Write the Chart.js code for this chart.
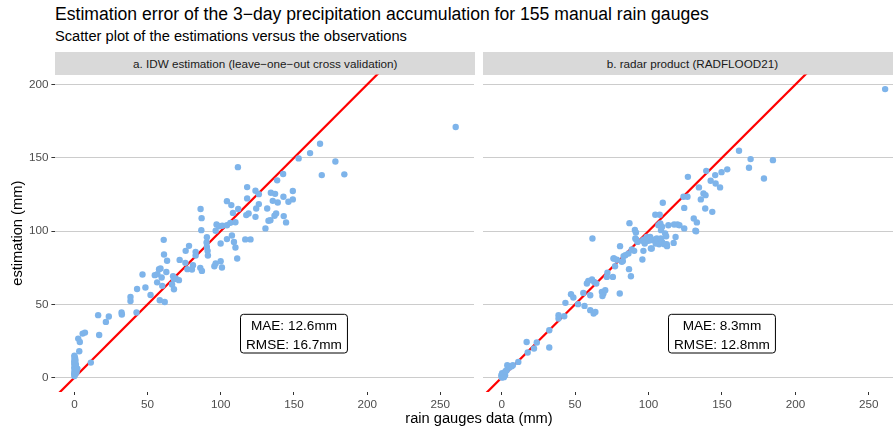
<!DOCTYPE html>
<html>
  <head>
    <script src="https://cdn.jsdelivr.net/npm/chart.js@4"></script>
    <style>
      body { margin: 0; background: #fff; }
      #page { position: relative; width: 893px; height: 432px; overflow: hidden; background: #fff;
              font-family: "Liberation Sans", Arial, sans-serif; }
      .txt { position: absolute; white-space: nowrap; color: #000; }
      .strip { position: absolute; top: 52px; height: 23px; width: 419.6px; background: #d9d9d9; color: #1a1a1a;
               font-size: 11.7px; display: flex; align-items: center; justify-content: center; }
      canvas { position: absolute; top: 0; }
    </style>
  </head>
  <body>
    <div id="page">
      <div class="txt" style="left:55px; top:4px; font-size:17.6px; line-height:20px">Estimation error of the 3−day precipitation accumulation for 155 manual rain gauges</div>
      <div class="txt" style="left:55px; top:28.4px; font-size:14.67px; line-height:17px">Scatter plot of the estimations versus the observations</div>
      <div class="strip" style="left:55.4px">a. IDW estimation (leave−one−out cross validation)</div>
      <div class="strip" style="left:482.6px">b. radar product (RADFLOOD21)</div>
      <canvas id="idw" width="478" height="432" style="left:0"></canvas>
      <canvas id="radar" width="430" height="432" style="left:478px"></canvas>
      <div class="txt" style="left:0; width:958px; text-align:center; top:410.4px; font-size:14.67px; line-height:17px">rain gauges data (mm)</div>
    </div>
    <script>
      const idwObs = [0, 0, 0, 0, 0.5, 0, 0, 0.5, 0, 0, 0, 0, 0.5, 0, 0, 1, 1, 1, 1.5, 2, 0.3, 0.7,
        3.3, 2.6, 3.7, 5.6, 7.2, 11.2, 16.9, 16.2, 21.5, 23.5,
        32.2, 32.4, 42.4, 38.3, 38.3, 42.8, 48.5, 52, 46.5, 54.9,
        56.7, 57.8, 58.8, 59.6, 56.5, 60, 58.3, 61.7, 61, 61.2,
        63.3, 62.8, 67.4, 68, 69.2, 71.4, 66.7, 68, 71.9, 76,
        78.3, 75.8, 77.2, 80.3, 81, 82.8, 82.8, 86, 87.1, 90.3,
        90.5, 91, 91.2, 86.9, 86.2, 86.7, 90.5, 95.6, 96.5, 99.9,
        100.8, 99.9, 104.2, 109, 110, 111.2, 116.7, 120.3, 97.1, 98.7,
        101, 104.2, 106.5, 110, 107.6, 96.5, 104.2, 107.2, 108.3, 111.9,
        117.4, 119, 123.7, 124.2, 126, 123.7, 126, 130.5, 132.6, 111.7,
        118, 118, 131.7, 133.9, 136.7, 137.8, 143, 144.6, 134.2, 137.1,
        135.5, 138.9, 138.5, 142.6, 142.8, 146.2, 149.2, 149.2, 153.2, 161,
        167.8, 169, 178.3, 184.4, 260.5];
      const idwEst = [1, 2, 3, 4, 5, 6, 7, 8, 9, 10, 11, 12, 13, 14, 15, 3, 6, 9, 4, 6, 2.5, 11.5,
        18, 26.6, 24.3, 30, 30.7, 10.2, 29.1, 42.6, 38, 41.7,
        44.4, 43, 44.4, 55, 52.3, 60.5, 61.5, 56.4, 70.3, 69.9,
        70.6, 74, 74.4, 68.3, 65, 62.6, 52.8, 51.6, 94, 84,
        79.7, 72.1, 69.2, 67.1, 67.6, 66.5, 63.5, 60.3, 80.3, 86.5,
        89.9, 78.3, 74, 73.8, 76.7, 85.8, 83.3, 74.9, 72.8, 92.2,
        89.2, 86.5, 83.3, 108.8, 115, 100.6, 95.8, 76, 77.9, 79.4,
        75.1, 91.5, 94.5, 92.6, 88.8, 81.3, 94.3, 94.3, 104.5, 103.3,
        103.6, 104, 105.6, 106, 97, 100.2, 120.4, 117.7, 112.4, 115,
        110.9, 112, 109.7, 115.4, 118.4, 127.5, 125.2, 101.8, 107, 143.6,
        130, 122.3, 115.4, 107.4, 110.4, 112, 110.2, 105.9, 126.1, 125.4,
        120.6, 119.5, 134.6, 138.9, 123.4, 120, 121.6, 127.3, 149.6, 153.2,
        159.6, 138.2, 147.5, 138.7, 171];

      const radarObs = [0, 0, 0, 0.5, 1.1, 1.1, 2.3, 2.3, 0, 0.5, 1.5, 3.4, 3.8, 5.2, 6.8, 7.6, 0.2, 0.8, 1.8, 0.3, 2.8, 1.5,
        11.3, 17, 17.7, 22, 23.9, 32.4, 32.4, 38.7, 38.7, 42.6,
        43.4, 47.2, 48.8, 52, 55.6, 56.4, 60.3, 60.3, 62.6, 63.8,
        61.5, 59, 58, 63, 64.4, 61.8, 68.2, 69.3, 70.5, 68.6,
        72, 71.6, 75.7, 76.1, 78.4, 76.5, 77.2, 80.4, 80.6, 81.8,
        82.5, 83, 84.2, 86.3, 86.7, 88, 87, 88.6, 90.2, 90.7,
        91.4, 91, 91.6, 92.5, 95.8, 97.4, 95.8, 96.5, 96.5, 97,
        98.8, 99.9, 101.1, 101.6, 102.2, 104.5, 104.9, 105.6, 106.7, 107.2,
        108.4, 109.2, 110.7, 112.6, 111.3, 112, 112.4, 117.1, 118.4, 102.2,
        104.6, 107.6, 109.7, 106.7, 108, 109.2, 108.5, 113.5, 117.4, 119.7,
        121, 124.3, 131.9, 124.3, 123.8, 126.5, 126.8, 130.8, 132.9, 132.4,
        134.3, 137.4, 138.8, 135.6, 138.6, 143.4, 139.3, 142.3, 145.4, 145.7,
        148.7, 149.7, 153.6, 161.6, 168.4, 169.5, 178.6, 184.7, 261.1];
      const radarEst = [0.4, 1, 1.6, 0.5, 0.4, 2.7, 3.8, 1.6, 2, 1.2, 1.5, 5, 8.4, 6.8, 7.7, 8.4, 0, 0.8, 2.5, 3, 4.5, 0.3,
        10.7, 24.3, 17.1, 19.8, 23.9, 32.3, 20.5, 42.6, 40.3, 41.9,
        51, 56.9, 54.6, 50.1, 57.8, 48.9, 56.2, 46, 43.7, 44.8,
        67, 66, 64.2, 65.3, 64.2, 94.9, 58.5, 57.4, 59.6, 55.7,
        71.5, 68.7, 68.7, 81.3, 80.4, 81.3, 76, 57.4, 89.7, 79,
        79.6, 82.9, 83.5, 84.7, 74, 69.2, 105.4, 87.4, 86.5, 100.8,
        99, 94.9, 94.3, 92.6, 93.3, 91.5, 80.6, 86.5, 93.8, 94.3,
        96, 93.3, 96, 88.1, 93.8, 94.3, 91.5, 94.9, 93.8, 91,
        94.9, 92.6, 91, 89.7, 98.4, 96.5, 91, 91.9, 96, 88.1,
        111.1, 111.1, 119.3, 104, 105.2, 102.9, 100.6, 104, 104.5, 104.5,
        104, 101.8, 100.2, 115.8, 123.4, 123.4, 137, 108.6, 105.9, 99.9,
        129.8, 125.7, 124.5, 121.6, 115.4, 113.1, 141.1, 134.3, 138.2, 132.5,
        129.8, 140.2, 142.1, 154.8, 143.2, 149.1, 135.9, 148.4, 196.9];

      const idwStats = ['MAE: 12.6mm', 'RMSE: 16.7mm'];
      const radarStats = ['MAE: 8.3mm', 'RMSE: 12.8mm'];
      const statsAt = [150, 30];

      const xMin = -13, xMax = 273;
      const yMin = -9.85, yMax = 206.85;
      const FONT = '"Liberation Sans", Arial, sans-serif';
      Chart.defaults.font.family = FONT;

      const statsLabel = {
        id: 'statsLabel',
        afterDatasetsDraw(chart, args, opts) {
          const { ctx, scales: { x, y } } = chart;
          const cx = x.getPixelForValue(statsAt[0]);
          const cy = y.getPixelForValue(statsAt[1]);
          ctx.save();
          ctx.font = '13.6px ' + FONT;
          const w = Math.max(...opts.lines.map((t) => ctx.measureText(t).width)) + 11;
          ctx.beginPath();
          ctx.roundRect(cx - w / 2, cy - 19.3, w, 38.7, 3);
          ctx.fillStyle = '#fff';
          ctx.fill();
          ctx.lineWidth = 1;
          ctx.strokeStyle = '#000';
          ctx.stroke();
          ctx.fillStyle = '#000';
          ctx.textAlign = 'center';
          ctx.fillText(opts.lines[0], cx, cy - 4);
          ctx.fillText(opts.lines[1], cx, cy + 15.7);
          ctx.restore();
        },
      };

      const makePanel = (id, obs, est, stats, withYAxis, padding) => {
        const points = obs.map((v, i) => ({ x: v, y: est[i] }));
        return new Chart(document.getElementById(id), {
          type: 'scatter',
          data: {
            datasets: [
              {
                type: 'line',
                data: [{ x: xMin, y: xMin }, { x: xMax, y: xMax }],
                borderColor: '#ff0000',
                borderWidth: 2.2,
                pointRadius: 0,
                order: 2,
              },
              {
                data: points,
                backgroundColor: '#7eb4ea',
                borderWidth: 0,
                pointRadius: 3.2,
                order: 1,
              },
            ],
          },
          options: {
            responsive: false,
            animation: false,
            events: [],
            layout: { padding },
            plugins: { legend: { display: false }, tooltip: { enabled: false }, statsLabel: { lines: stats } },
            scales: {
              x: {
                type: 'linear',
                min: xMin,
                max: xMax,
                border: { display: false },
                grid: { drawOnChartArea: false, tickLength: 3, tickColor: '#333' },
                ticks: { stepSize: 50, includeBounds: false, color: '#4d4d4d', font: { size: 11.7 }, padding: 3, maxRotation: 0 },
                afterFit: (s) => { s.height = 40; },
              },
              y: {
                min: yMin,
                max: yMax,
                border: { display: false },
                grid: { color: '#cccccc', lineWidth: 1, tickLength: 4, tickColor: '#333', drawTicks: withYAxis },
                ticks: { display: withYAxis, stepSize: 50, includeBounds: false, color: '#4d4d4d', font: { size: 11.7 }, padding: 3 },
                title: { display: withYAxis, text: 'estimation (mm)', color: '#000', font: { size: 14.67 }, padding: { top: 9, bottom: 0 } },
                afterFit: (s) => { s.width = withYAxis ? 55.4 : 0; },
              },
            },
          },
          plugins: [statsLabel],
        });
      };

      makePanel('idw', idwObs, idwEst, idwStats, true, { top: 74.5, right: 3, bottom: 0, left: 0 });
      makePanel('radar', radarObs, radarEst, radarStats, false, { top: 74.5, right: 5.4, bottom: 0, left: 4.6 });
    </script>
  </body>
</html>
